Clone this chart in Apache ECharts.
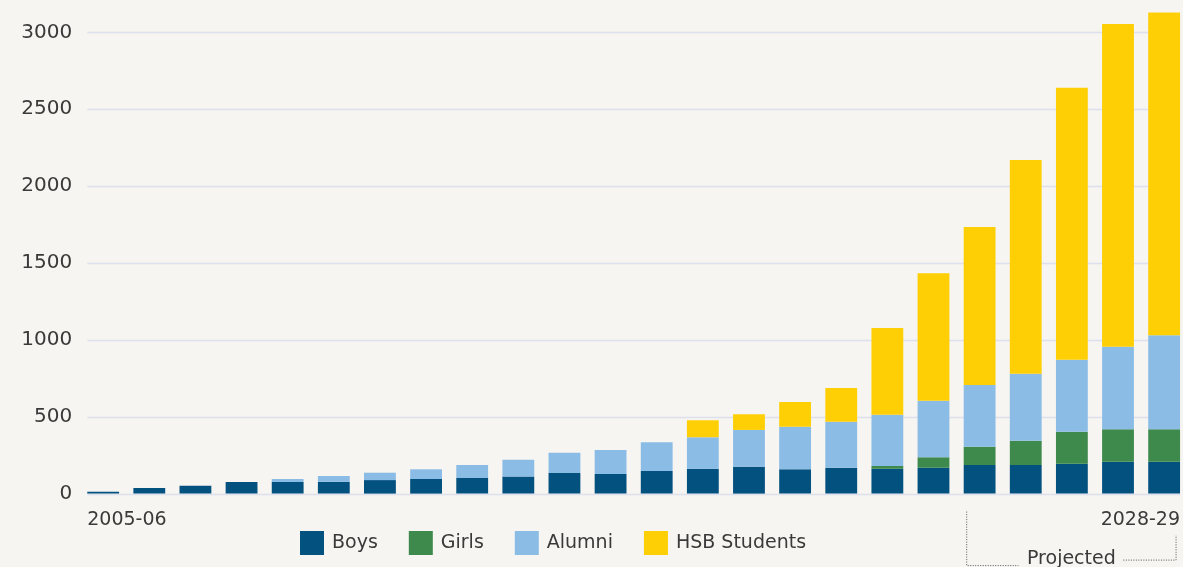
<!DOCTYPE html>
<html><head><meta charset="utf-8">
<script src="https://cdn.jsdelivr.net/npm/echarts@6/dist/echarts.min.js"></script>
<style>html,body{margin:0;padding:0;background:#f6f5f1}#c{width:1183px;height:567px}</style>
</head><body><div id="c"></div>
<script>
const categories = ['2005-06','2006-07','2007-08','2008-09','2009-10','2010-11','2011-12','2012-13',
  '2013-14','2014-15','2015-16','2016-17','2017-18','2018-19','2019-20','2020-21','2021-22','2022-23',
  '2023-24','2024-25','2025-26','2026-27','2027-28','2028-29'];
const boys   = [12,36,51,75,75,77,88,95,101,112,134,127,147,162,175,158,168,162,168,186,186,194,207,207];
const girls  = [0,0,0,0,0,0,0,0,0,0,0,0,0,0,0,0,0,18,68,119,158,209,211,211];
const alumni = [0,0,0,0,20,37,48,63,85,108,132,157,187,204,239,277,300,333,368,401,436,468,537,612];
const hsb    = [0,0,0,0,0,0,0,0,0,0,0,0,0,111,102,161,219,564,829,1028,1390,1769,2099,2098];
const yTicks = [0,500,1000,1500,2000,2500,3000];
const seriesNames = ['Boys','Girls','Alumni','HSB Students'];
const projectedFrom = '2024-25';
const projectedLabel = 'Projected';

const colors = ['#03517f','#3e8a4c','#8bbce6','#ffcf05'];
const FONT = 'DejaVu Sans';
const TXT = '#3a3a3a';
const GAP = 0.31;

const chart = echarts.init(document.getElementById('c'), null, {renderer:'canvas'});
const option = {
  backgroundColor: '#f6f5f1',
  animation: false,
  textStyle: {fontFamily: FONT},
  grid: {left: 80.1, width: 1107.1, top: 32.3, height: 461.3, outerBoundsMode: 'none', containLabel: false},
  legend: {
    left: 300, top: 531, padding: 0, itemWidth: 24, itemHeight: 24, itemGap: 31, icon: 'rect',
    textStyle: {fontSize: 19, color: TXT, fontFamily: FONT, padding: [0,0,0,3]},
    data: seriesNames
  },
  xAxis: {type: 'category', data: categories, axisLine: {show: false}, axisTick: {show: false}, axisLabel: {show: false}},
  yAxis: {
    type: 'value', min: yTicks[0], max: yTicks[yTicks.length-1], interval: yTicks[1]-yTicks[0],
    axisLabel: {fontSize: 20, color: TXT, margin: 8, fontFamily: FONT, formatter: v => String(v)},
    splitLine: {show: false},
    axisLine: {show: false}, axisTick: {show: false}
  },
  series: [boys, girls, alumni, hsb].map((d, i) => ({
    name: seriesNames[i], type: 'bar', stack: 'total', data: d, z: 3,
    itemStyle: {color: colors[i]}, barCategoryGap: (GAP*100)+'%', clip: false
  }))
};
chart.setOption(option);

const cx = c => chart.convertToPixel({xAxisIndex: 0}, c);
const cy = v => chart.convertToPixel({yAxisIndex: 0}, v);
const band = cx(categories[1]) - cx(categories[0]);
const bw = band * (1 - GAP);
const y0 = cy(0);
const firstX = cx(categories[0]) - bw/2;
const lastX = cx(categories[categories.length-1]) + bw/2;
const L = cx(projectedFrom) - bw/2 + 3;
const R = lastX - 4;
const mid = (L + R) / 2;
const dotted = {stroke: '#555', lineWidth: 1, lineDash: [1, 1.5], fill: null};
const gridLines = yTicks.map(t => ({
  type: 'line', z: 1, silent: true,
  shape: {x1: firstX, y1: Math.round(cy(t)) + 0.5, x2: lastX, y2: Math.round(cy(t)) + 0.5},
  style: {stroke: '#dfe0ee', lineWidth: 1.5}
}));
chart.setOption({graphic: gridLines.concat([
  {type: 'text', left: firstX, top: y0 + 17, style: {text: categories[0], font: '19px "DejaVu Sans"', fill: TXT}},
  {type: 'text', right: 1183 - lastX, top: y0 + 17, style: {text: categories[categories.length-1], font: '19px "DejaVu Sans"', fill: TXT}},
  {type: 'text', x: mid, y: y0 + 65, style: {text: projectedLabel, font: '19px "DejaVu Sans"', fill: TXT, align: 'center', verticalAlign: 'middle'}},
  {type: 'polyline', shape: {points: [[L, y0 + 18], [L, y0 + 72], [mid - 53, y0 + 72]]}, style: dotted},
  {type: 'polyline', shape: {points: [[mid + 52, y0 + 66.5], [R, y0 + 66.5], [R, y0 + 41.5]]}, style: dotted}
])});
</script></body></html>
